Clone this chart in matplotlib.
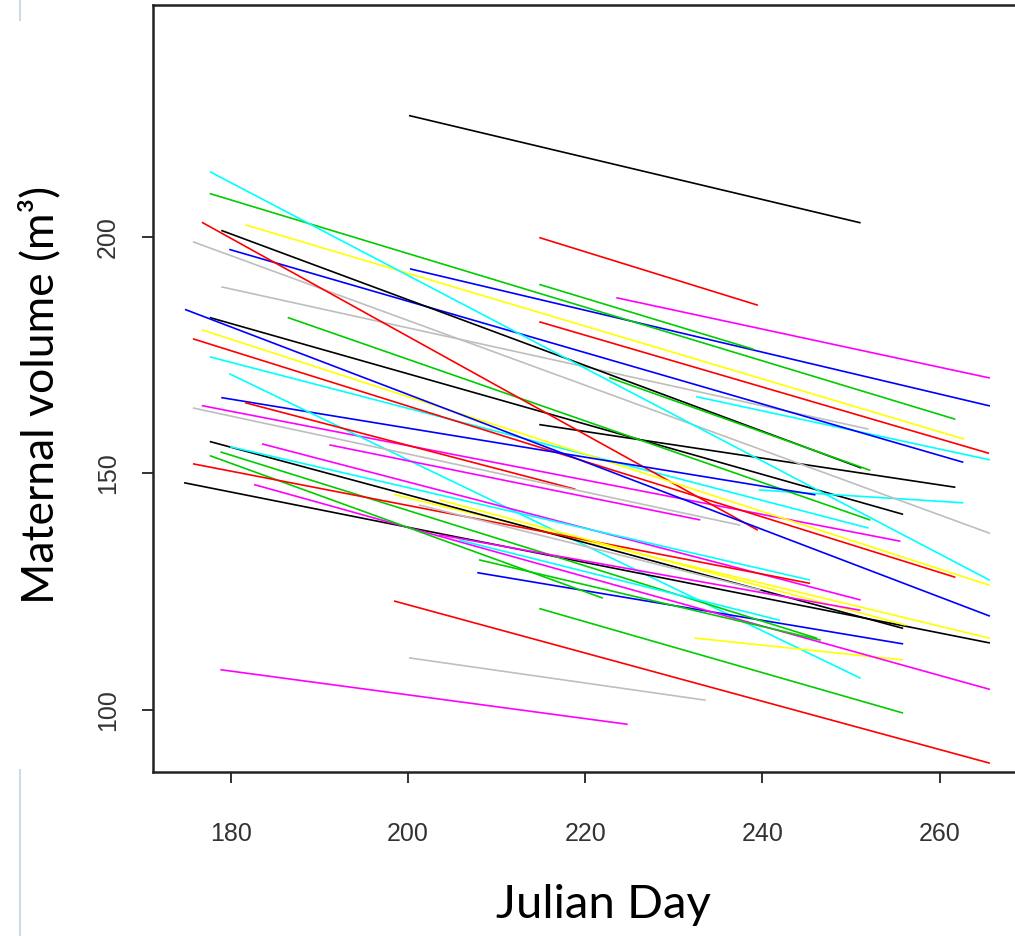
import matplotlib
matplotlib.use("Agg")
import matplotlib.pyplot as plt
from matplotlib.lines import Line2D

# Garis penurunan volume tiap individu (hari awal, volume awal, hari akhir, volume akhir)
hari_awal = [200.2, 214.9, 223.6, 200.3, 177.7, 181.7, 214.9, 179.0, 232.6, 179.9,
             214.9, 179.0, 214.9, 177.7, 239.7, 175.8, 186.5, 177.7, 176.8, 176.8,
             177.7, 176.8, 175.8, 174.9, 179.0, 179.9, 181.7, 183.6, 174.8, 198.5,
             177.7, 207.9, 232.4, 182.7, 214.9, 198.5, 200.2, 178.9, 177.7, 178.9,
             175.8, 180.0, 175.8, 222.8, 191.2, 203.6, 201.3, 203.6, 205.8, 208.1]
vol_awal = [225.6, 199.8, 187.1, 193.2, 209.1, 202.5, 182.0, 189.4, 166.2, 197.3,
            189.9, 201.3, 160.3, 182.9, 146.5, 198.9, 182.9, 174.6, 164.3, 203.0,
            213.7, 180.3, 178.4, 184.6, 166.0, 171.0, 164.9, 156.2, 148.0, 145.5,
            156.7, 129.0, 115.2, 147.6, 121.4, 123.0, 111.0, 108.5, 153.7, 154.5,
            152.0, 155.6, 163.8, 170.2, 156.0, 144.4, 143.3, 137.0, 135.9, 131.7]
hari_akhir = [251.0, 239.4, 265.6, 265.6, 261.7, 262.7, 265.5, 251.9, 265.6, 262.6,
              238.9, 251.1, 261.7, 255.8, 262.6, 265.6, 252.1, 251.9, 255.5, 239.4,
              265.6, 265.6, 261.7, 265.6, 245.9, 251.0, 218.8, 251.0, 265.6, 265.6,
              255.8, 255.8, 255.8, 265.6, 255.8, 265.6, 233.5, 224.7, 221.9, 246.1,
              245.3, 245.3, 237.4, 252.1, 232.9, 256.1, 239.7, 251.0, 241.9, 246.5]
vol_akhir = [203.0, 185.6, 170.2, 164.3, 161.5, 157.3, 154.3, 159.4, 152.9, 152.4,
             176.3, 151.2, 147.1, 141.4, 143.8, 137.4, 140.2, 138.5, 135.7, 138.1,
             127.5, 126.4, 128.1, 119.9, 145.5, 106.8, 146.7, 123.3, 114.2, 115.2,
             117.3, 114.0, 110.6, 104.4, 99.4, 88.8, 102.1, 97.0, 123.7, 115.2,
             126.8, 127.5, 139.1, 150.7, 140.2, 118.0, 125.4, 121.1, 119.0, 114.8]
warna = ['black', 'red', 'magenta', 'blue', 'green', 'yellow', 'red', 'gray', 'cyan', 'blue',
         'green', 'black', 'black', 'black', 'cyan', 'gray', 'green', 'cyan', 'magenta', 'red',
         'cyan', 'yellow', 'red', 'blue', 'blue', 'cyan', 'red', 'magenta', 'black', 'yellow',
         'black', 'blue', 'yellow', 'magenta', 'green', 'red', 'gray', 'magenta', 'green', 'green',
         'red', 'cyan', 'gray', 'green', 'magenta', 'yellow', 'gray', 'magenta', 'cyan', 'green']

# Palet warna ala R
palet = {'black': '#000000', 'red': '#FF0000', 'green': '#00CD00', 'blue': '#0000FF',
         'cyan': '#00FFFF', 'magenta': '#FF00FF', 'yellow': '#FFFF00', 'gray': '#BEBEBE'}

fig = plt.figure(figsize=(10.15, 9.36), dpi=100)
ax = fig.add_axes([153 / 1015, 164 / 936, 868 / 1015, 767 / 936])

for i in range(len(hari_awal)):
    ax.plot([hari_awal[i], hari_akhir[i]], [vol_awal[i], vol_akhir[i]],
            color=palet[warna[i]], linewidth=1.2)

ax.set_xlim(171.2, 269.2)
ax.set_ylim(86.9, 249.0)
ax.set_xticks([180, 200, 220, 240, 260])
ax.set_yticks([100, 150, 200])

for s in ax.spines.values():
    s.set_linewidth(1.8)
    s.set_color('#222222')

ax.tick_params(direction='out', length=8, width=1.3, color='#222222',
               labelsize=18, labelcolor='#333333')
ax.tick_params(axis='x', pad=28)
ax.tick_params(axis='y', pad=16)
for lab in ax.get_yticklabels():
    lab.set_rotation(90)
    lab.set_va('center')
for lab in ax.get_xticklabels() + ax.get_yticklabels():
    lab.set_family('Liberation Sans')

fig.text(603 / 1015, 1 - 905 / 936, 'Julian Day', ha='center', va='center',
         fontsize=34, family='Lato')
fig.text(40 / 1015, 1 - 395 / 936, 'Maternal volume (m\u00b3)', ha='center', va='center',
         rotation=90, fontsize=32, family='Lato')

# sisa garis tepi slide
fig.add_artist(Line2D([20 / 1015, 20 / 1015], [0, 166 / 936], color='#c9dcee', linewidth=1.5))
fig.add_artist(Line2D([20 / 1015, 20 / 1015], [916 / 936, 1], color='#c9dcee', linewidth=1.5))

fig.savefig('out.png', dpi=100)
